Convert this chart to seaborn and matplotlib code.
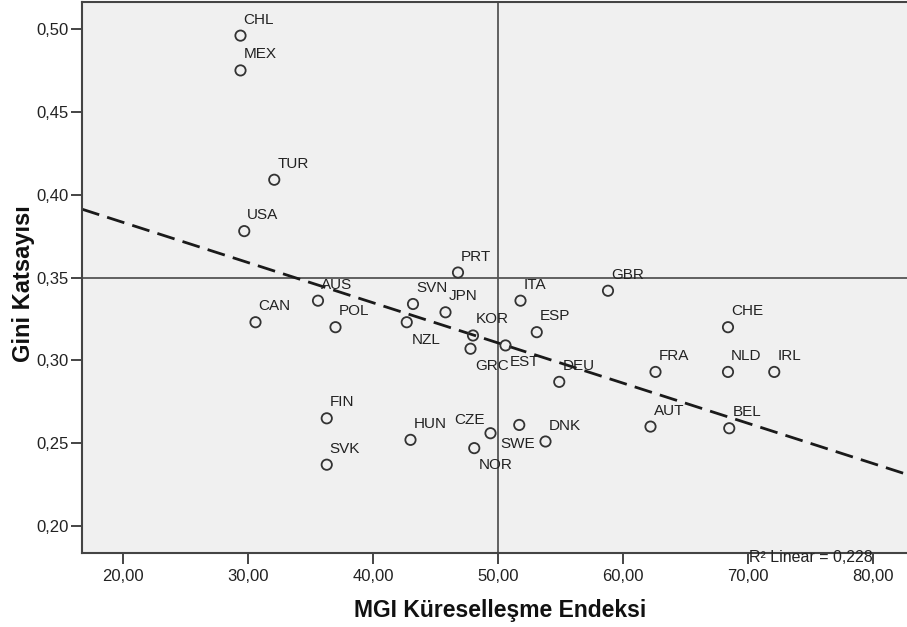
import matplotlib
matplotlib.use("Agg")
import matplotlib.pyplot as plt
import seaborn as sns
import pandas as pd

# country codes, MGI globalisation index, Gini coefficient
countries = ["CHL", "MEX", "TUR", "USA", "AUS", "CAN", "POL", "SVN", "JPN", "NZL",
             "PRT", "KOR", "GRC", "EST", "ITA", "ESP", "GBR", "DEU", "FIN", "SVK",
             "HUN", "CZE", "NOR", "SWE", "DNK", "CHE", "FRA", "NLD", "IRL", "AUT", "BEL"]
mgi = [29.4, 29.4, 32.1, 29.7, 35.6, 30.6, 37.0, 43.2, 45.8, 42.7,
       46.8, 48.0, 47.8, 50.6, 51.8, 53.1, 58.8, 54.9, 36.3, 36.3,
       43.0, 49.4, 48.1, 51.7, 53.8, 68.4, 62.6, 68.4, 72.1, 62.2, 68.5]
gini = [0.496, 0.475, 0.409, 0.378, 0.336, 0.323, 0.320, 0.334, 0.329, 0.323,
        0.353, 0.315, 0.307, 0.309, 0.336, 0.317, 0.342, 0.287, 0.265, 0.237,
        0.252, 0.256, 0.247, 0.261, 0.251, 0.320, 0.293, 0.293, 0.293, 0.260, 0.259]
x_ticks = [20, 30, 40, 50, 60, 70, 80]
y_ticks = [0.20, 0.25, 0.30, 0.35, 0.40, 0.45, 0.50]
r2_text = "R\u00b2 Linear = 0,228"

df = pd.DataFrame({"country": countries, "mgi": mgi, "gini": gini})

sns.set_style("white")
plt.rcParams["font.family"] = ["Liberation Sans", "DejaVu Sans"]

edge = "#444444"
fig = plt.figure(figsize=(9.07, 6.27), dpi=100)
ax = fig.add_axes([82 / 907, 74 / 627, 825 / 907, 551 / 627])
ax.set_facecolor("#f0f0f0")
ax.set_xlim(16.72, 82.72)
ax.set_ylim(0.1837, 0.5163)

# reference lines at the means
ax.axvline(50, color="#555555", lw=1.3, zorder=1)
ax.axhline(0.35, color="#555555", lw=1.3, zorder=1)

sns.regplot(data=df, x="mgi", y="gini", scatter=False, ci=None, truncate=False, ax=ax,
            line_kws={"color": "#1a1a1a", "lw": 2.0, "dashes": (6.5, 3), "zorder": 2})
sns.scatterplot(data=df, x="mgi", y="gini", ax=ax, s=55, facecolors="none",
                edgecolor="#333333", linewidth=1.3, zorder=3)
ax.set_xlim(16.72, 82.72)
ax.set_ylim(0.1837, 0.5163)

# label offsets in pixels (dx, dy up), default above-right
default_off = (3, 12)
special_off = {"NZL": (5, -22), "GRC": (5, -21), "EST": (4, -21), "NOR": (5, -21),
               "SWE": (-19, -23), "CZE": (-36, 9)}
for c, xv, yv in zip(countries, mgi, gini):
    dx, dy = special_off.get(c, default_off)
    ax.annotate(c, (xv, yv), xytext=(dx * 0.72, dy * 0.72), textcoords="offset points",
                ha="left", va="baseline", fontsize=11, color="#222222", zorder=4)

ax.text(0.8836, -0.009, r2_text, transform=ax.transAxes, ha="center", va="center",
        fontsize=11.5, color="#222222", clip_on=False, zorder=5)

ax.set_xticks(x_ticks)
ax.set_xticklabels([f"{v:.2f}".replace(".", ",") for v in x_ticks])
ax.set_yticks(y_ticks)
ax.set_yticklabels([f"{v:.2f}".replace(".", ",") for v in y_ticks])
ax.tick_params(axis="both", direction="out", length=8, width=1.4, color=edge,
               labelsize=12, labelcolor="#222222")
ax.tick_params(axis="y", pad=1.5, left=True)
ax.tick_params(axis="x", pad=3.5, bottom=True)

for side in ["left", "bottom", "top"]:
    ax.spines[side].set_color(edge)
    ax.spines[side].set_linewidth(1.5)
ax.spines["right"].set_visible(False)

ax.set_xlabel("MGI Küreselleşme Endeksi", fontsize=16.5, fontweight="bold", color="#111111")
ax.set_ylabel("Gini Katsayısı", fontsize=17, fontweight="bold", color="#111111")
ax.xaxis.set_label_coords(0.507, -0.083)
ax.yaxis.set_label_coords(-0.057, 0.488)

fig.savefig("out.png", dpi=100)
